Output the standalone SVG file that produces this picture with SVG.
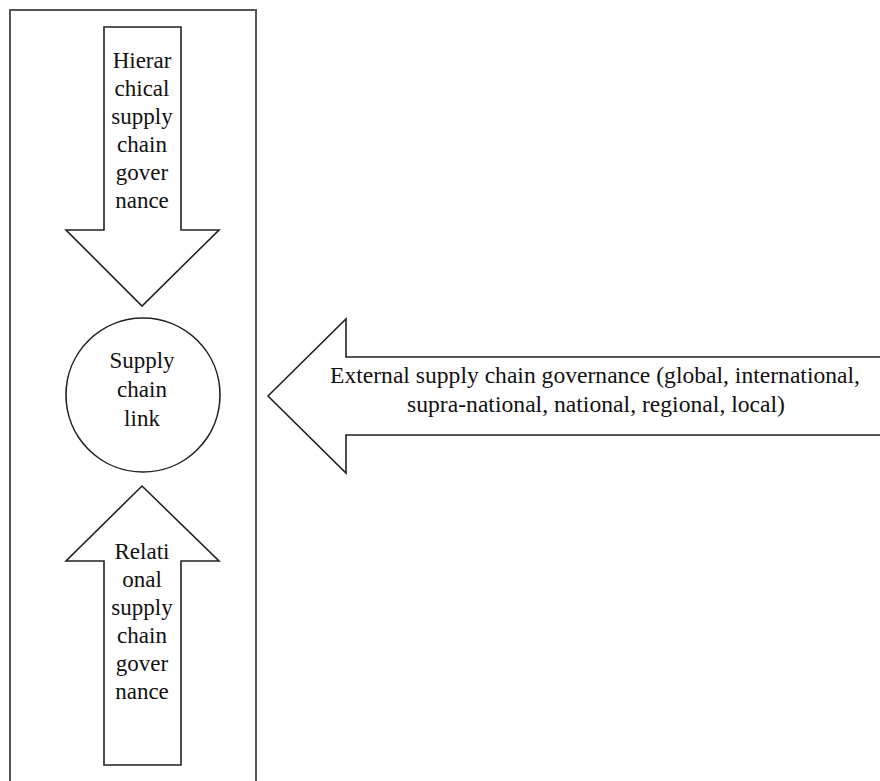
<svg xmlns="http://www.w3.org/2000/svg" width="880" height="781" viewBox="0 0 880 781">
<style>
.frame{fill:#fff;stroke:#555;stroke-width:2}
.shape{fill:#fff;stroke:#222;stroke-width:1.6;stroke-linejoin:miter}
.t{font-family:"Liberation Serif","Times New Roman",serif;font-size:23px;fill:#111;text-anchor:middle}
</style>
<rect width="880" height="781" fill="#fff"/>
<g id="frame"><rect class="frame" x="10" y="10" width="246" height="800"/></g>
<g id="connectors">
<g id="hierarchical">
<polygon class="shape" points="104,27 181,27 181,230 219,230 142,306 66,230 104,230"/>
<text class="t" x="142" y="68">Hierar</text>
<text class="t" x="142" y="96">chical</text>
<text class="t" x="142" y="124">supply</text>
<text class="t" x="142" y="152">chain</text>
<text class="t" x="142" y="180">gover</text>
<text class="t" x="142" y="208">nance</text>
</g>
<g id="relational">
<polygon class="shape" points="142,486 219,561 181,561 181,765 104,765 104,561 66,561"/>
<text class="t" x="142" y="559">Relati</text>
<text class="t" x="142" y="587">onal</text>
<text class="t" x="142" y="615">supply</text>
<text class="t" x="142" y="643">chain</text>
<text class="t" x="142" y="671">gover</text>
<text class="t" x="142" y="699">nance</text>
</g>
<g id="external">
<polygon class="shape" points="268,396 346,319 346,357 885,357 885,435 346,435 346,473"/>
<text class="t" x="595" y="383" textLength="530" lengthAdjust="spacingAndGlyphs">External  supply chain governance (global, international,</text>
<text class="t" x="596" y="412" textLength="378" lengthAdjust="spacingAndGlyphs">supra-national, national, regional, local)</text>
</g>
</g>
<g id="link">
<circle class="shape" cx="143" cy="395" r="77"/>
<text class="t" x="142" y="368">Supply</text>
<text class="t" x="142" y="397">chain</text>
<text class="t" x="142" y="426">link</text>
</g>
</svg>
